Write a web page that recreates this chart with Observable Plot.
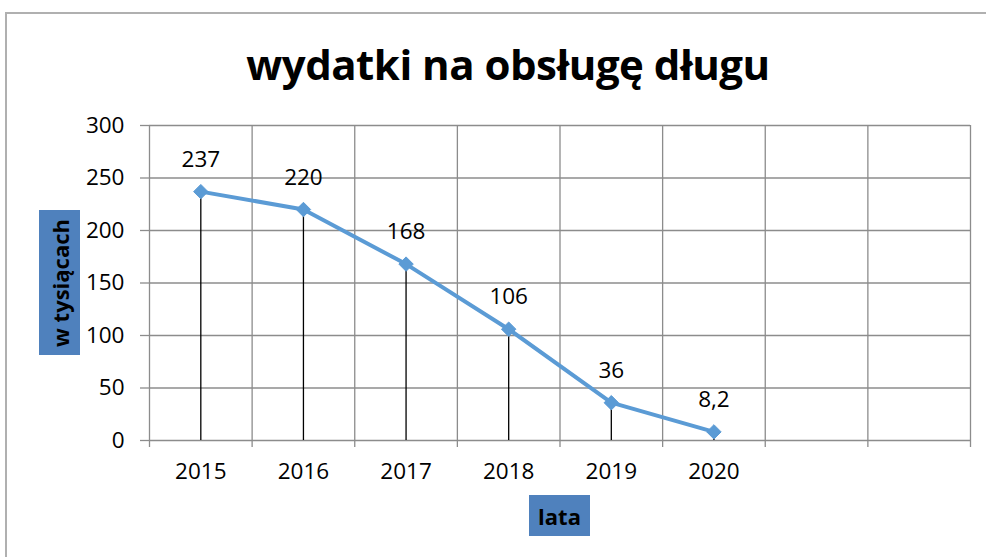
<!DOCTYPE html>
<html>
<head>
<meta charset="utf-8">
<script src="https://cdn.jsdelivr.net/npm/d3@7"></script>
<script src="https://cdn.jsdelivr.net/npm/@observablehq/plot@0.6"></script>
<style>
  html, body { margin: 0; padding: 0; background: #fff; overflow: hidden; }
  #wrap { position: relative; width: 986px; height: 557px; font-family: "Open Sans", sans-serif; }
  #frame { position: absolute; left: 5px; top: 12px; width: 1100px; height: 700px; border: 2px solid #b0b0b0; box-sizing: border-box; }
  #title { position: absolute; left: 0; width: 1016px; top: 34px; text-align: center; font-weight: bold; font-size: 42px; line-height: 60px; color: #000; letter-spacing: -0.5px; }
  #chart { position: absolute; left: 0; top: 0; }
  .box { position: absolute; background: #4f81bd; color: #000; font-weight: bold; font-size: 22px; display: flex; align-items: center; justify-content: center; }
  #ylab { left: 39px; top: 210px; width: 41px; height: 145px; }
  #ylab span { transform: rotate(-90deg); white-space: nowrap; display: block; }
  #xlab { left: 529px; top: 495px; width: 61px; height: 41px; }
</style>
</head>
<body>
<div id="wrap">
  <div id="frame"></div>
  <div id="chart"></div>
  <div id="title">wydatki na obsługę długu</div>
  <div class="box" id="ylab"><span>w tysiącach</span></div>
  <div class="box" id="xlab">lata</div>
</div>
<script>
const years = ["2015", "2016", "2017", "2018", "2019", "2020"];
const values = [237, 220, 168, 106, 36, 8.2];
const valueLabels = ["237", "220", "168", "106", "36", "8,2"];
const yTicks = [0, 50, 100, 150, 200, 250, 300];
const slotCount = 8;

const data = years.map((y, i) => ({ year: y, pos: i + 0.5, value: values[i], label: valueLabels[i] }));
const slotEdges = d3.range(slotCount + 1);

const gridColor = "#8c8c8c";

const chart = Plot.plot({
  width: 986,
  height: 557,
  marginLeft: 149,
  marginRight: 16,
  marginTop: 125,
  marginBottom: 117,
  style: { fontFamily: "Open Sans, sans-serif", fontSize: "22px", color: "#000", background: "transparent" },
  x: { domain: [0, slotCount], axis: null },
  y: { domain: [0, 300], axis: null },
  marks: [
    Plot.gridY(yTicks, { stroke: gridColor, strokeOpacity: 1, strokeWidth: 1.3 }),
    Plot.gridX(slotEdges, { stroke: gridColor, strokeOpacity: 1, strokeWidth: 1.3 }),
    Plot.axisY({ ticks: yTicks, tickSize: 9, tickPadding: 16, stroke: gridColor, strokeWidth: 1.3, fontSize: 22.5, label: null }),
    Plot.axisX({ ticks: slotEdges, tickSize: 7, stroke: gridColor, strokeWidth: 1.3, tickFormat: () => "", label: null }),
    Plot.axisX({ ticks: data.map(d => d.pos), tickSize: 0, tickPadding: 23, tickFormat: (d, i) => years[i], fontSize: 22.5, label: null }),
    Plot.ruleX(data, { x: "pos", y1: 0, y2: "value", stroke: "#000", strokeWidth: 1.3 }),
    Plot.line(data, { x: "pos", y: "value", stroke: "#5b9bd5", strokeWidth: 4 }),
    Plot.dot(data, { x: "pos", y: "value", symbol: "diamond2", fill: "#5b9bd5", stroke: "#5b9bd5", strokeWidth: 1, r: 6.5 }),
    Plot.text(data, { x: "pos", y: "value", text: "label", dy: -32, fontSize: 22.5, fill: "#000" })
  ]
});
document.getElementById("chart").appendChild(chart);
</script>
</body>
</html>
